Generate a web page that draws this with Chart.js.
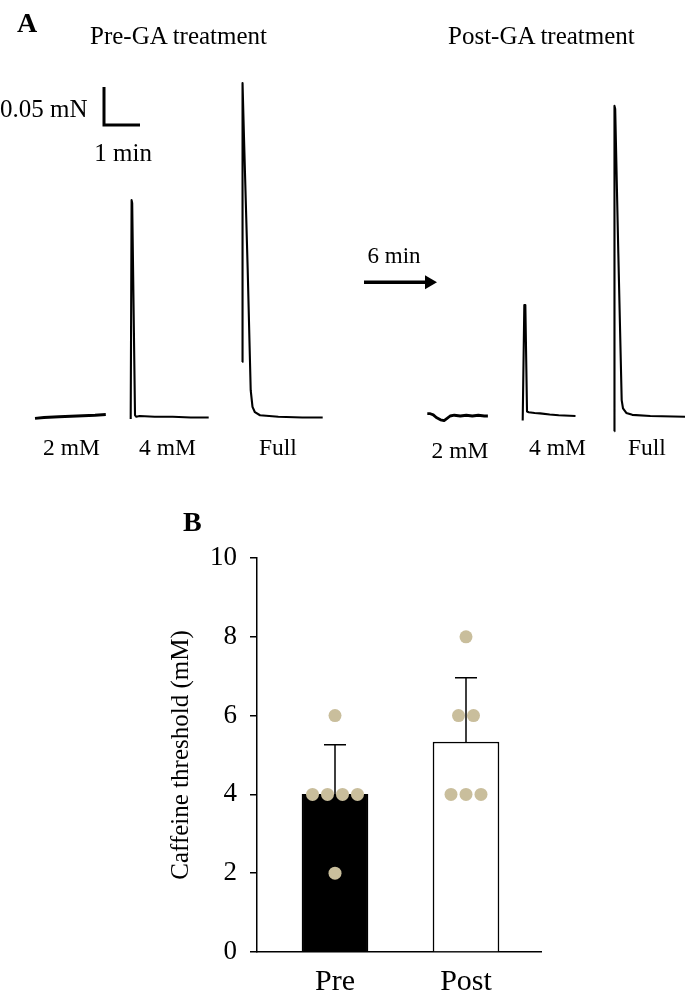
<!DOCTYPE html>
<html>
<head>
<meta charset="utf-8">
<script src="https://cdn.jsdelivr.net/npm/chart.js@4.4.1/dist/chart.umd.min.js"></script>
<style>
  html, body { margin: 0; padding: 0; background: #fff; }
  #wrap { position: relative; width: 685px; height: 1000px; overflow: hidden; background: #fff; }
  canvas { position: absolute; left: 0; }
  .t { position: absolute; font-family: "Liberation Serif", "Times New Roman", serif; line-height: 1; white-space: nowrap; color: #000; }
</style>
</head>
<body>
<div id="wrap">
  <canvas id="traces" width="685" height="480" style="top:0;width:685px;height:480px"></canvas>
  <canvas id="bars" width="685" height="510" style="top:490px;width:685px;height:510px"></canvas>
</div>
<script>
// ---------------- DATA ----------------
// Panel A: force traces, [time (s) from start of segment, force (mN) above baseline]
const pre2mM  = [[0,-0.003],[15,-0.002],[40,-0.001],[70,0.000],[100,0.001],[118,0.002]];
const pre4mM  = [[0,-0.004],[1.5,0.284],[2.5,0.280],[7.2,0.001],[9,-0.001],[15,0.000],[40,-0.001],[70,-0.001],[100,-0.002],[130,-0.002]];
const preFull = [[0,0.071],[0.4,0.438],[2.8,0.367],[9,0.192],[14,0.034],[17,0.012],[21,0.005],[29.5,0.001],[60,-0.001],[100,-0.002],[134,-0.002]];
const post2mM = [[0,0.003],[5,0.003],[10,0.0015],[15,-0.002],[22,-0.005],[28,-0.006],[33,-0.003],[38,0.000],[45,0.001],[55,0.000],[65,0.001],[75,0.000],[85,0.001],[95,0.000],[101,0.000]];
const post4mM = [[0,-0.006],[2.7,0.146],[4.4,0.146],[7.2,0.006],[10,0.005],[20,0.004],[29,0.0035],[45,0.002],[60,0.001],[88,0.000]];
const postFull= [[0,-0.020],[0.3,0.408],[1.5,0.404],[6.7,0.214],[12.3,0.021],[14.5,0.010],[20,0.004],[30,0.0015],[60,0.000],[118,-0.001]];
const traceLabels = ['2 mM','4 mM','Full','2 mM','4 mM','Full'];
const scaleBarForce = 0.05;  // mN
const scaleBarTime  = 60;    // s
const restInterval  = '6 min';

// Panel B: caffeine threshold
const groups     = ['Pre', 'Post'];
const barMeans   = [4.0, 5.33];
const barSD      = [1.26, 1.63];
const prePoints  = [6, 4, 4, 4, 4, 2];
const postPoints = [8, 6, 6, 4, 4, 4];
const yTicks     = [0, 2, 4, 6, 8, 10];

// ---------------- LAYOUT (not data) ----------------
const PX_PER_S = 0.6;                 // 1 min scale bar = 36 px
const PX_PER_MN = 760;                // 0.05 mN scale bar = 38 px
const baselinePx = 416;
const segStartPx = [35, 130.7, 242.3, 427.3, 522.7, 614.3];
const scaleBarOrigin = {xPx: 104, yPx: 125};
const arrowPx = {x0: 364, x1: 429, y: 282.3};

const FONT = '"Liberation Serif", "Times New Roman", serif';
const wrap = document.getElementById('wrap');
function addText(txt, left, baseline, size, bold) {
  const d = document.createElement('div');
  d.className = 't';
  d.textContent = txt;
  d.style.fontSize = size + 'px';
  if (bold) d.style.fontWeight = 'bold';
  d.style.left = left + 'px';
  d.style.top = (baseline - 0.8375 * size) + 'px';
  wrap.appendChild(d);
}

// ---------------- PANEL A ----------------
const xMaxS = 685 / PX_PER_S;
const yMaxMN = baselinePx / PX_PER_MN;
const yMinMN = -(480 - baselinePx) / PX_PER_MN;
const segs = [pre2mM, pre4mM, preFull, post2mM, post4mM, postFull];

const traceDatasets = segs.map((seg, i) => ({
  type: 'line',
  data: seg.map(([t, f]) => ({x: t + segStartPx[i] / PX_PER_S, y: f})),
  borderColor: '#000',
  borderWidth: (i === 0 || i === 3) ? 2.8 : 2.1,
  pointRadius: 0,
  tension: 0,
  clip: false,
  borderJoinStyle: 'round'
}));

const sbx = scaleBarOrigin.xPx / PX_PER_S;
const sby = (baselinePx - scaleBarOrigin.yPx) / PX_PER_MN;
traceDatasets.push({
  type: 'line',
  data: [{x: sbx, y: sby + scaleBarForce}, {x: sbx, y: sby}, {x: sbx + scaleBarTime, y: sby}],
  borderColor: '#000', borderWidth: 3, pointRadius: 0, tension: 0, clip: false,
  borderCapStyle: 'butt', borderJoinStyle: 'miter'
});
const ay = (baselinePx - arrowPx.y) / PX_PER_MN;
traceDatasets.push({
  type: 'line',
  data: [{x: arrowPx.x0 / PX_PER_S, y: ay}, {x: arrowPx.x1 / PX_PER_S, y: ay}],
  borderColor: '#000', borderWidth: 3.5, tension: 0, clip: false,
  borderCapStyle: 'butt',
  pointStyle: 'triangle', pointRotation: 90,
  pointRadius: [0, 8], pointBackgroundColor: '#000', pointBorderWidth: 0
});

new Chart(document.getElementById('traces'), {
  type: 'line',
  data: { datasets: traceDatasets },
  options: {
    responsive: false, animation: false, devicePixelRatio: 1,
    layout: { padding: 0, autoPadding: false },
    plugins: { legend: { display: false }, tooltip: { enabled: false } },
    scales: {
      x: { type: 'linear', display: false, min: 0, max: xMaxS, offset: false },
      y: { type: 'linear', display: false, min: yMinMN, max: yMaxMN }
    }
  }
});

addText('A', 17, 32, 28, true);
addText('Pre-GA treatment', 90, 43.5, 25);
addText('Post-GA treatment', 448, 43.5, 25);
addText('0.05 mN', 0, 117.3, 25);
addText('1 min', 94.3, 160.7, 25);
addText(restInterval, 367.5, 263.3, 23);
const labelPos = [[43, 456], [139, 456], [259, 456], [431.5, 458.3], [529, 456], [628, 456]];
traceLabels.forEach((l, i) => addText(l, labelPos[i][0], labelPos[i][1], 23.5));

// ---------------- PANEL B ----------------
addText('B', 183, 531.7, 28, true);

const JITTER = 0.1145; // x-units between tied dots
function swarm(values, center) {
  const counts = {}, seen = {};
  values.forEach(v => counts[v] = (counts[v] || 0) + 1);
  return values.map(v => {
    const k = seen[v] = (seen[v] === undefined ? 0 : seen[v] + 1);
    return {x: center + (k - (counts[v] - 1) / 2) * JITTER, y: v};
  });
}
const dots = swarm(prePoints, 1).concat(swarm(postPoints, 2));

const errorBars = {
  id: 'errorBars',
  afterDatasetDraw(chart, args) {
    if (args.index !== 0) return;
    const {ctx, scales: {x, y}} = chart;
    ctx.save();
    ctx.strokeStyle = '#000';
    ctx.lineWidth = 1.5;
    barMeans.forEach((m, i) => {
      const px = x.getPixelForValue(i + 1);
      const y0 = y.getPixelForValue(m);
      const y1 = y.getPixelForValue(m + barSD[i]);
      ctx.beginPath();
      ctx.moveTo(px, y0); ctx.lineTo(px, y1);
      ctx.moveTo(px - 11, y1); ctx.lineTo(px + 11, y1);
      ctx.stroke();
    });
    ctx.restore();
  }
};

new Chart(document.getElementById('bars'), {
  type: 'bar',
  data: {
    datasets: [
      {
        type: 'bar',
        data: groups.map((g, i) => ({x: i + 1, y: barMeans[i]})),
        backgroundColor: ['#000000', '#ffffff'],
        borderColor: '#000',
        borderWidth: 1.5,
        barThickness: 66,
        order: 1
      },
      {
        type: 'scatter',
        data: dots,
        backgroundColor: '#c9be9c',
        borderWidth: 0,
        pointRadius: 6.5,
        order: 0
      }
    ]
  },
  options: {
    responsive: false, animation: false, devicePixelRatio: 1,
    layout: { padding: { left: 166, top: 68, right: 144, bottom: 0 }, autoPadding: false },
    plugins: { legend: { display: false }, tooltip: { enabled: false } },
    scales: {
      x: {
        type: 'linear', min: 1 - 78 / 131, max: 2 + 75 / 131,
        offset: false, bounds: 'ticks',
        grid: { display: false, offset: false },
        border: { display: true, color: '#000', width: 1.5 },
        afterBuildTicks: s => { s.ticks = groups.map((g, i) => ({value: i + 1})); },
        afterFit: s => { s.height = 48; },
        ticks: {
          callback: v => groups[v - 1],
          font: { family: FONT, size: 30 }, color: '#000', padding: 4,
          maxRotation: 0, autoSkip: false
        }
      },
      y: {
        min: 0, max: 10,
        afterBuildTicks: s => { s.ticks = yTicks.map(v => ({value: v})); },
        afterFit: s => { s.width = 91; },
        grid: { display: true, drawOnChartArea: false, drawTicks: true, tickLength: 7, color: '#000', lineWidth: 1.5 },
        border: { display: true, color: '#000', width: 1.5 },
        ticks: { font: { family: FONT, size: 27 }, color: '#000', padding: 13 },
        title: { display: true, text: 'Caffeine threshold (mM)', font: { family: FONT, size: 25 }, color: '#000', padding: 0 }
      }
    }
  },
  plugins: [errorBars]
});
</script>
</body>
</html>
